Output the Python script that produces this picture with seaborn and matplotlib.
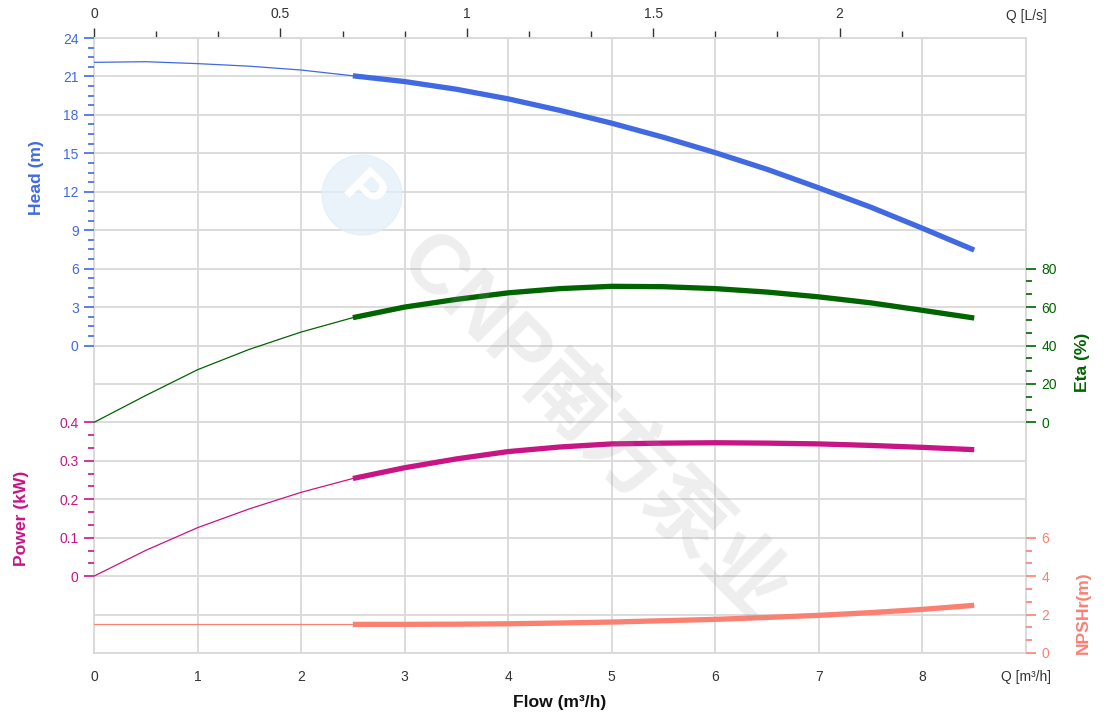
import numpy as np
import pandas as pd
import matplotlib
matplotlib.use("Agg")
import matplotlib.pyplot as plt
import seaborn as sns
from matplotlib.patches import Circle
from matplotlib.ticker import FixedLocator

# pump curve readings (flow in m3/h)
flow = [0, 0.5, 1, 1.5, 2, 2.5, 3, 3.5, 4, 4.5, 5, 5.5, 6, 6.5, 7, 7.5, 8, 8.5]
head = [22.1, 22.15, 22.0, 21.8, 21.5, 21.05, 20.6, 20.0, 19.25, 18.35, 17.35,
        16.25, 15.05, 13.75, 12.3, 10.8, 9.15, 7.45]
eta = [0, 14, 27.4, 38, 47, 54.5, 60, 64, 67.4, 69.6, 70.8, 70.6, 69.6, 67.8,
       65.3, 62.2, 58.3, 54.3]
power = [0, 0.067, 0.126, 0.175, 0.218, 0.254, 0.282, 0.305, 0.324, 0.336, 0.344,
         0.346, 0.347, 0.346, 0.344, 0.34, 0.335, 0.329]
npshr = [1.49, 1.49, 1.49, 1.49, 1.49, 1.49, 1.49, 1.5, 1.52, 1.56, 1.61, 1.68,
         1.75, 1.85, 1.96, 2.1, 2.27, 2.48]
duty_from = 2.5  # thick part of the curves starts here

head_ticks = [0, 3, 6, 9, 12, 15, 18, 21, 24]
power_ticks = [0, 0.1, 0.2, 0.3, 0.4]
eta_ticks = [0, 20, 40, 60, 80]
npsh_ticks = [0, 2, 4, 6]
flow_ticks = [0, 1, 2, 3, 4, 5, 6, 7, 8]
ls_ticks = [0, 0.5, 1, 1.5, 2]

C_HEAD = "#4169E1"
C_ETA = "#006400"
C_POW = "#C71585"
C_NPSH = "#FA8072"
C_GRID = "#d9d9d9"
C_TXT = "#333333"

sns.set_style("white")
plt.rcParams["font.family"] = ["Liberation Sans", "DejaVu Sans"]

df = pd.DataFrame({"flow": flow, "head": head, "eta": eta, "power": power, "npshr": npshr})
thin = df[df["flow"] <= duty_from]
thick = df[df["flow"] >= duty_from]

W, H = 1120, 718
fig = plt.figure(figsize=(W / 100, H / 100), dpi=100)
ax = fig.add_axes([94 / W, 65 / H, 932 / W, 615 / H])
ax.set_xlim(0, 9)
ax.set_ylim(0, 16)

# background grid: 16 rows, one column per m3/h
ax.set_yticks(range(17))
ax.set_yticklabels([])
ax.tick_params(axis="y", length=0)
ax.set_xticks(flow_ticks + [9])
ax.set_xticklabels([str(v) for v in flow_ticks] + ["Q [m³/h]"])
ax.xaxis.set_minor_locator(FixedLocator(np.arange(0, 9.01, 0.25)))
ax.tick_params(axis="x", which="major", length=7, width=1, color=C_TXT,
               labelcolor=C_TXT, labelsize=10, pad=5)
ax.tick_params(axis="x", which="minor", length=5, width=1, color=C_TXT)
ax.grid(True, which="major", color=C_GRID, lw=1.3)
for s in ax.spines.values():
    s.set_color(C_GRID)
    s.set_linewidth(1.3)

# top axis in L/s
sec = ax.secondary_xaxis("top", functions=(lambda q: q / 3.6, lambda l: l * 3.6))
sec.set_xticks(ls_ticks, labels=["0", "0.5", "1", "1.5", "2"])
sec.xaxis.set_minor_locator(FixedLocator(np.arange(0, 2.2, 0.5 / 3)))
sec.tick_params(which="major", length=7, width=1, color=C_TXT, labelcolor=C_TXT,
                labelsize=10, pad=5)
sec.tick_params(which="minor", length=5, width=1, color=C_TXT)
sec.spines["top"].set_visible(False)
fig.text(1026 / W, 1 - 16 / H, "Q [L/s]", ha="center", va="center", fontsize=10, color=C_TXT)


def curve_axis(lo, hi, ticks, labels, minor_step, color, side):
    a = ax.twinx()
    a.set_ylim(lo, hi)
    if side == "left":
        a.yaxis.tick_left()
    a.set_yticks(ticks, labels=labels)
    minors = [v for v in np.arange(ticks[0], ticks[-1] + 1e-9, minor_step)
              if min(abs(v - t) for t in ticks) > 1e-6]
    a.yaxis.set_minor_locator(FixedLocator(minors))
    a.tick_params(axis="y", which="major", length=7, width=1.2, color=color,
                  labelcolor=color, labelsize=10, pad=4)
    a.tick_params(axis="y", which="minor", length=4, width=1.2, color=color)
    for s in a.spines.values():
        s.set_visible(False)
    a.grid(False)
    return a


ax_h = curve_axis(-24, 24, head_ticks, [str(v) for v in head_ticks], 0.75, C_HEAD, "left")
ax_p = curve_axis(-0.2, 1.4, power_ticks, ["0", "0.1", "0.2", "0.3", "0.4"], 0.1 / 3, C_POW, "left")
ax_e = curve_axis(-120, 200, eta_ticks, [str(v) for v in eta_ticks], 20 / 3, C_ETA, "right")
ax_n = curve_axis(0, 32, npsh_ticks, [str(v) for v in npsh_ticks], 2 / 3, C_NPSH, "right")

for a, col, color in [(ax_h, "head", C_HEAD), (ax_e, "eta", C_ETA),
                      (ax_p, "power", C_POW), (ax_n, "npshr", C_NPSH)]:
    sns.lineplot(data=thin, x="flow", y=col, ax=a, color=color, lw=0.9, zorder=5)
    sns.lineplot(data=thick, x="flow", y=col, ax=a, color=color, lw=3.8,
                 solid_capstyle="butt", zorder=6)
    a.set_xlabel("")
    a.set_ylabel("")
    a.set_xlim(0, 9)

# axis titles
title_kw = dict(rotation=90, ha="center", va="center", fontsize=12.6, fontweight="bold")
fig.text(37 / W, 1 - 178 / H, "Head (m)", color=C_HEAD, **title_kw)
fig.text(22 / W, 1 - 518 / H, "Power (kW)", color=C_POW, **title_kw)
fig.text(1083 / W, 1 - 362 / H, "Eta (%)", color=C_ETA, **title_kw)
fig.text(1083 / W, 1 - 613 / H, "NPSHr(m)", color=C_NPSH, **title_kw)
fig.text(560 / W, 1 - 703 / H, "Flow (m³/h)", ha="center", va="center",
         fontsize=12.6, fontweight="bold", color="#111111")

# watermark
fig.patches.append(Circle((3.62, (H - 195) / 100), 0.40, transform=fig.dpi_scale_trans,
                          color="#e2eef9", alpha=0.7, zorder=0))
fig.text(362 / W, 1 - 195 / H, "P", rotation=-45, ha="center", va="center",
         fontsize=38, fontweight="bold", color="white", zorder=1)
fig.text(592 / W, 1 - 428 / H, "CNP南方泵业", rotation=-45, ha="center", va="center",
         fontsize=60, fontweight="bold", color="#9a9a9a", alpha=0.17,
         family=["Liberation Sans", "Noto Sans CJK SC", "DejaVu Sans"], zorder=1)

fig.savefig("out.png", dpi=100)
